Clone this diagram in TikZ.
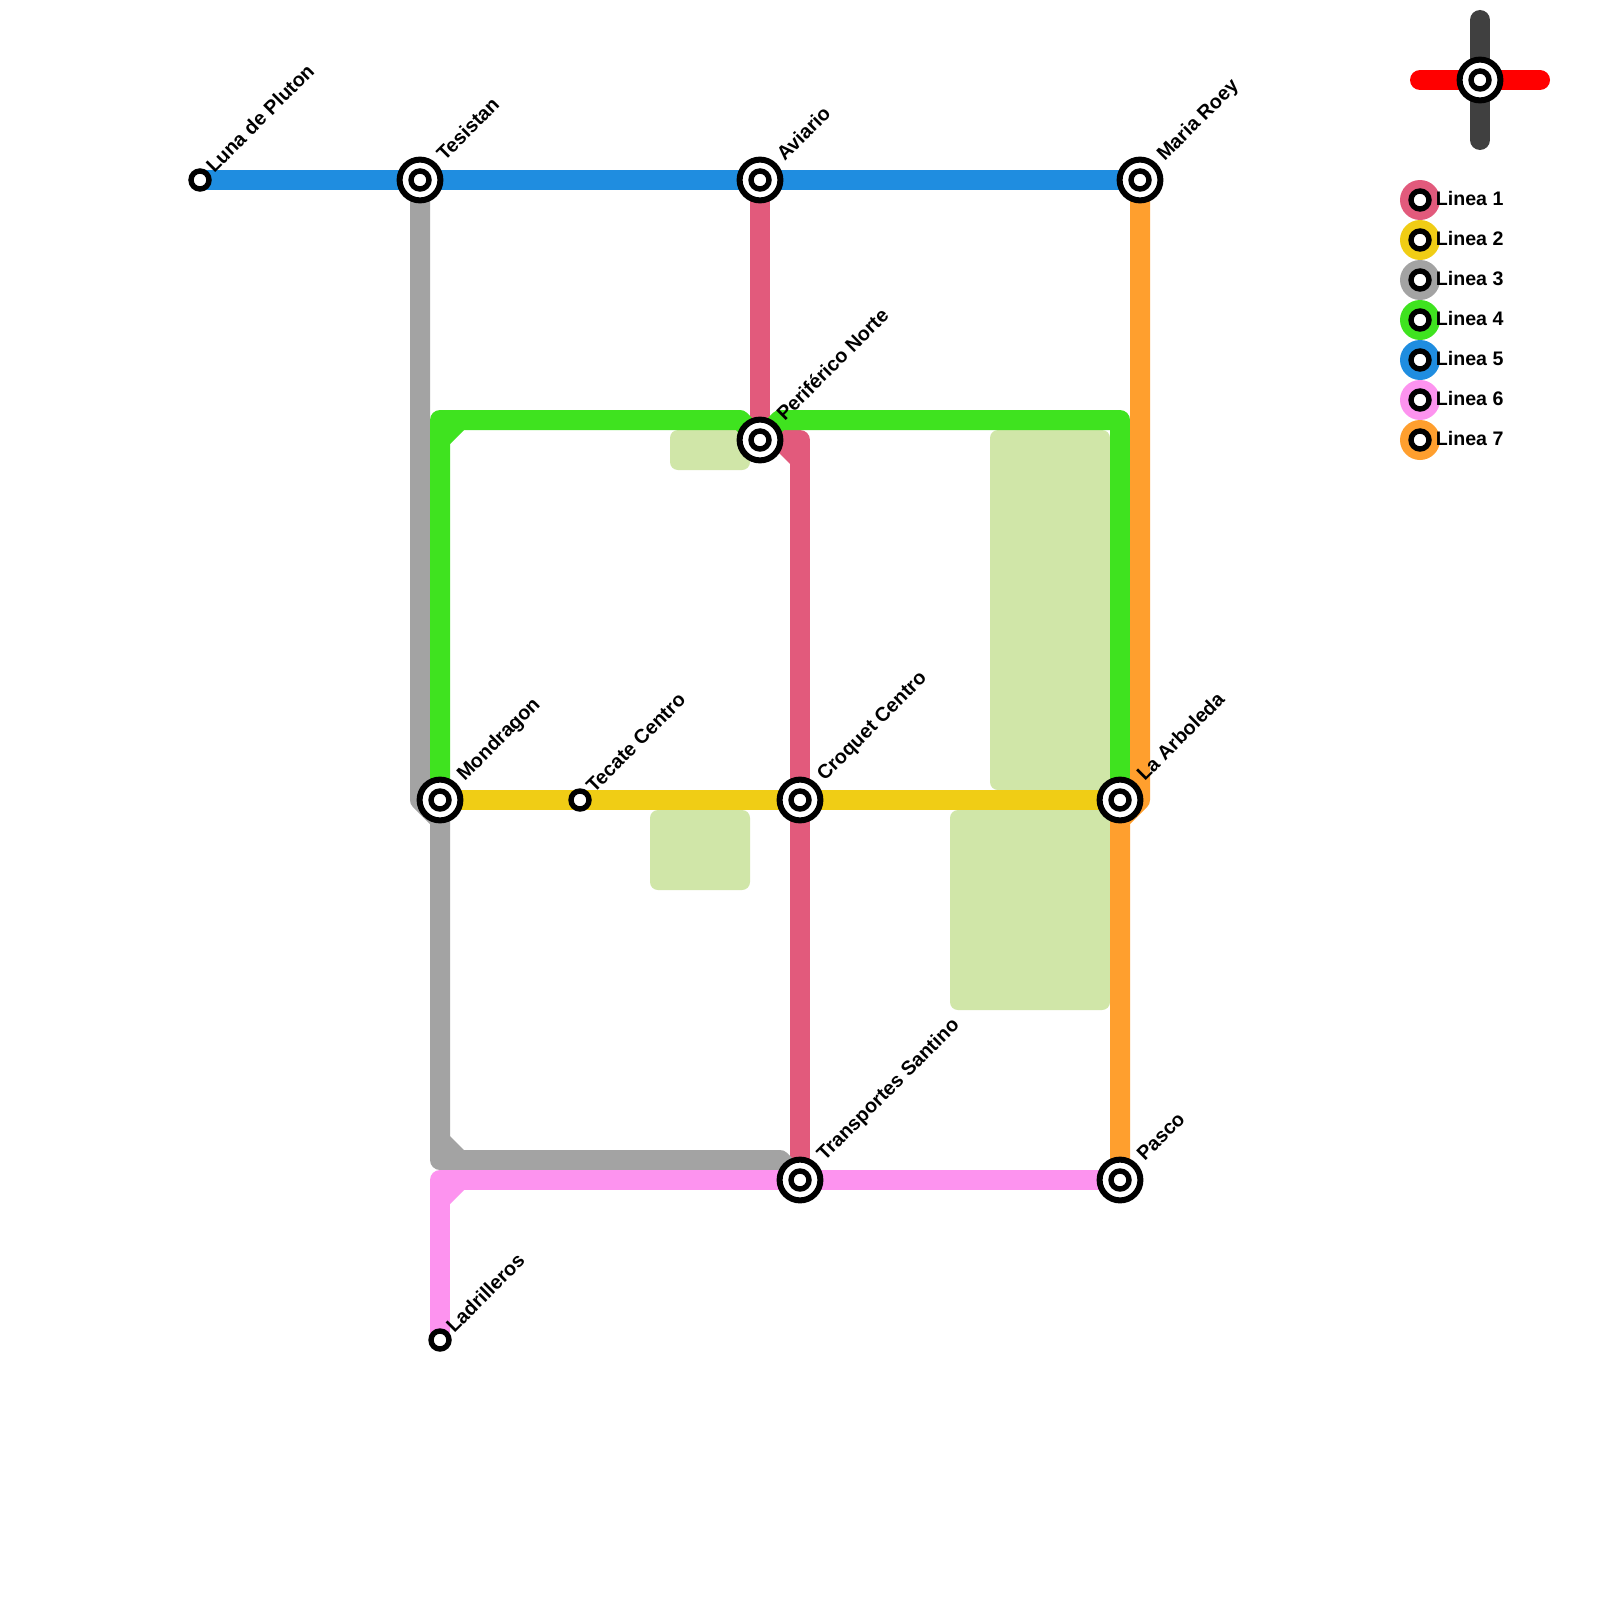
\documentclass[tikz,border=0pt]{standalone}
\usepackage{fontspec}
\setmainfont{Liberation Sans}
\usetikzlibrary{backgrounds}
\definecolor{lineA}{HTML}{E25A7C}
\definecolor{lineB}{HTML}{F0CD15}
\definecolor{lineC}{HTML}{A3A3A3}
\definecolor{lineD}{HTML}{3FE31F}
\definecolor{lineE}{HTML}{1F8DE0}
\definecolor{lineF}{HTML}{FD93EF}
\definecolor{lineG}{HTML}{FF9F2E}
\definecolor{keydark}{HTML}{404040}
\definecolor{parkgreen}{HTML}{D0E6A8}
\tikzset{
  hub/.style={circle,draw=black,fill=white,line width=3pt,minimum size=20.4pt,inner sep=0pt},
  stop/.style={circle,draw=black,fill=white,line width=2.7pt,minimum size=9pt,inner sep=0pt},
  metro/.style={line width=10pt,line join=round,line cap=butt},
  park/.style={fill=parkgreen,rounded corners=4pt},
  lab/.style={anchor=base west,rotate=45,inner sep=0pt,font=\bfseries\fontsize{9.9}{11}\selectfont},
  keylab/.style={anchor=base west,inner sep=0pt,font=\bfseries\fontsize{9.8}{11}\selectfont},
  swatch/.style={circle,minimum size=20pt,inner sep=0pt},
}
\begin{document}
\begin{tikzpicture}[x=0.5pt,y=-0.5pt]
\useasboundingbox (0,0) rectangle (1600,1600);
% stations
\node[stop] (luna) at (200,180) {};
\node[hub] (tes) at (420,180) {}; \node[stop] (tes2) at (tes) {};
\node[hub] (avi) at (760,180) {}; \node[stop] (avi2) at (avi) {};
\node[hub] (mar) at (1140,180) {}; \node[stop] (mar2) at (mar) {};
\node[hub] (per) at (760,440) {}; \node[stop] (per2) at (per) {};
\node[hub] (mon) at (440,800) {}; \node[stop] (mon2) at (mon) {};
\node[stop] (tec) at (580,800) {};
\node[hub] (cro) at (800,800) {}; \node[stop] (cro2) at (cro) {};
\node[hub] (arb) at (1120,800) {}; \node[stop] (arb2) at (arb) {};
\node[hub] (tra) at (800,1180) {}; \node[stop] (tra2) at (tra) {};
\node[hub] (pas) at (1120,1180) {}; \node[stop] (pas2) at (pas) {};
\node[stop] (lad) at (440,1340) {};
% labels
\node[lab] (tluna) at (214,174) {Luna de Pluton};
\node[lab] (ttes) at (444.5,162) {Tesistan};
\node[lab] (tavi) at (784.5,162) {Aviario};
\node[lab] (tmar) at (1164.5,162) {Maria Roey};
\node[lab] (tper) at (784.5,422) {Periférico Norte};
\node[lab] (tmon) at (464.5,782) {Mondragon};
\node[lab] (ttec) at (594,794) {Tecate Centro};
\node[lab] (tcro) at (824.5,782) {Croquet Centro};
\node[lab] (tarb) at (1144.5,782) {La Arboleda};
\node[lab] (ttra) at (824.5,1162) {Transportes Santino};
\node[lab] (tpas) at (1144.5,1162) {Pasco};
\node[lab] (tlad) at (454,1334) {Ladrilleros};
% key junction
\node[hub] (key) at (1480,80) {}; \node[stop] (key2) at (key) {};
\coordinate (kt) at (1480,20); \coordinate (kb) at (1480,140);
\coordinate (kl) at (1420,80); \coordinate (kr) at (1540,80);
% legend
\foreach \n/\c/\y/\t in {a/lineA/200/Linea 1,b/lineB/240/Linea 2,c/lineC/280/Linea 3,d/lineD/320/Linea 4,e/lineE/360/Linea 5,f/lineF/400/Linea 6,g/lineG/440/Linea 7}{
  \node[swatch,fill=\c] (sw\n) at (1420,\y) {};
  \node[stop] (st\n) at (1420,\y) {};
  \node[keylab] (lb\n) at (1435.5,\y+5) {\t};
}
% bends
\coordinate (g1) at (440,420); \coordinate (g2) at (740,420);
\coordinate (g3) at (780,420); \coordinate (g4) at (1120,420);
\coordinate (a1) at (800,440);
\coordinate (c1) at (420,800); \coordinate (c2) at (440,820);
\coordinate (c3) at (440,1160); \coordinate (c4) at (780,1160);
\coordinate (f1) at (440,1180);
\coordinate (o1) at (1140,800); \coordinate (o2) at (1120,820);
\begin{pgfonlayer}{background}
  \fill[white] (0,0) rectangle (1600,1600);
  \fill[park] (670,430) rectangle (750,470);
  \fill[park] (650,810) rectangle (750,890);
  \fill[park] (990,430) rectangle (1110,790);
  \fill[park] (950,810) rectangle (1110,1010);
  % line 1
  \draw[metro,lineA] (avi.center) -- (per.center) -- (a1) -- (tra.center);
  \fill[lineA] (790,464) -- (776,450) -- (790,450) -- cycle;
  % line 2
  \draw[metro,lineB] (mon.center) -- (tec.center) -- (cro.center) -- (arb.center);
  % line 3
  \draw[metro,lineC] (tes.center) -- (c1) -- (c2) -- (c3) -- (c4) -- (tra.center);
  \fill[lineC] (450,1136) -- (464,1150) -- (450,1150) -- cycle;
  % line 4
  \draw[metro,lineD] (mon.center) -- (g1) -- (g2) -- (per.center) -- (g3) -- (g4) -- (arb.center);
  \fill[lineD] (450,444) -- (464,430) -- (450,430) -- cycle;
  % line 5
  \draw[metro,lineE] (luna.center) -- (tes.center) -- (avi.center) -- (mar.center);
  % line 6
  \draw[metro,lineF] (lad.center) -- (f1) -- (tra.center) -- (pas.center);
  \fill[lineF] (450,1204) -- (464,1190) -- (450,1190) -- cycle;
  % line 7
  \draw[metro,lineG] (mar.center) -- (o1) -- (o2) -- (pas.center);
  % key
  \draw[metro,keydark,line cap=round] (kt) -- (kb);
  \draw[metro,red,line cap=round] (kl) -- (kr);
\end{pgfonlayer}
\end{tikzpicture}
\end{document}
